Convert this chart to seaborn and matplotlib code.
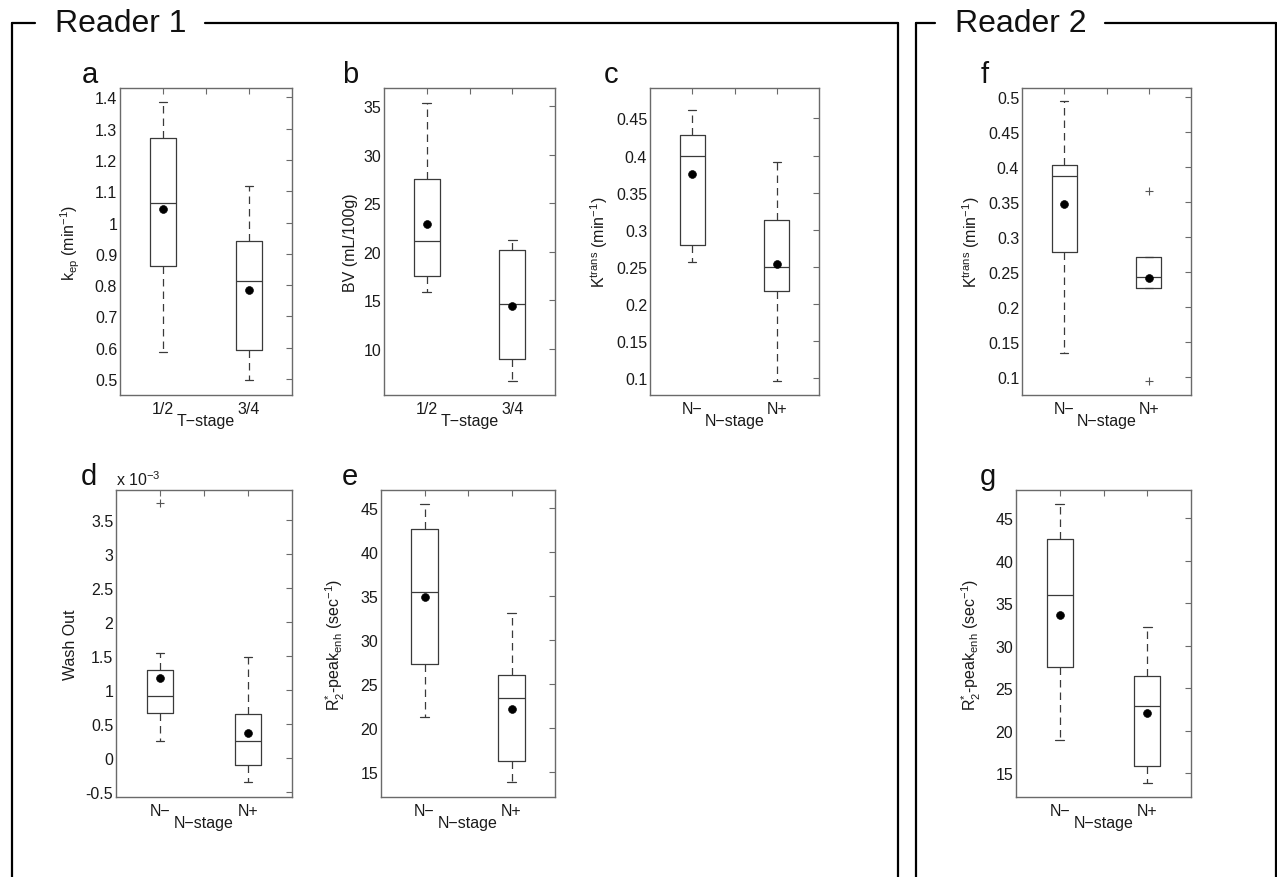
import matplotlib
matplotlib.use("Agg")
import matplotlib.pyplot as plt
import seaborn as sns
import pandas as pd
from matplotlib.lines import Line2D
from matplotlib.ticker import FormatStrFormatter

sns.set_style("white")
plt.rcParams["font.family"] = ["Liberation Sans", "DejaVu Sans"]
plt.rcParams["mathtext.default"] = "regular"

W, H = 1277, 878

# group labels
t_stage = ["1/2", "3/4"]
n_stage = ["N\u2212", "N+"]

# summary values read off the boxes: lower whisker, q1, median, q3, upper whisker, mean, outliers
# a: k_ep by T-stage (reader 1)
kep_low = [0.587, 0.496]
kep_q1 = [0.862, 0.593]
kep_med = [1.061, 0.812]
kep_q3 = [1.269, 0.941]
kep_high = [1.386, 1.117]
kep_mean = [1.043, 0.786]
kep_out = [[], []]

# b: BV by T-stage (reader 1)
bv_low = [15.9, 6.7]
bv_q1 = [17.5, 9.0]
bv_med = [21.1, 14.6]
bv_q3 = [27.5, 20.2]
bv_high = [35.4, 21.2]
bv_mean = [22.9, 14.4]
bv_out = [[], []]

# c: Ktrans by N-stage (reader 1)
kt1_low = [0.256, 0.097]
kt1_q1 = [0.280, 0.217]
kt1_med = [0.399, 0.250]
kt1_q3 = [0.428, 0.313]
kt1_high = [0.462, 0.391]
kt1_mean = [0.375, 0.254]
kt1_out = [[], []]

# d: wash out by N-stage (reader 1), x 10^-3
wo_low = [0.25, -0.355]
wo_q1 = [0.66, -0.105]
wo_med = [0.92, 0.25]
wo_q3 = [1.29, 0.655]
wo_high = [1.546, 1.48]
wo_mean = [1.18, 0.37]
wo_out = [[3.745], []]

# e: R2*-peak_enh by N-stage (reader 1)
r21_low = [21.3, 13.9]
r21_q1 = [27.3, 16.3]
r21_med = [35.4, 23.4]
r21_q3 = [42.6, 26.0]
r21_high = [45.4, 33.1]
r21_mean = [34.9, 22.2]
r21_out = [[], []]

# f: Ktrans by N-stage (reader 2)
kt2_low = [0.1335, 0.2274]
kt2_q1 = [0.2785, 0.2274]
kt2_med = [0.387, 0.2422]
kt2_q3 = [0.4026, 0.2718]
kt2_high = [0.4943, 0.2718]
kt2_mean = [0.3476, 0.242]
kt2_out = [[], [0.0943, 0.366]]

# g: R2*-peak_enh by N-stage (reader 2)
r22_low = [18.9, 13.9]
r22_q1 = [27.5, 15.8]
r22_med = [36.0, 22.9]
r22_q3 = [42.5, 26.4]
r22_high = [46.7, 32.2]
r22_mean = [33.6, 22.1]
r22_out = [[], []]

kep_label = r"k$_{ep}$ (min$^{-1}$)"
kt_label = r"K$^{trans}$ (min$^{-1}$)"
r2_label = r"R$^{*}_{2}$-peak$_{enh}$ (sec$^{-1}$)"

edge = "#3a3a3a"
spine = "#6a6a6a"
ink = "#1a1a1a"
fs = 11.5

fig = plt.figure(figsize=(W / 100, H / 100), dpi=100)


def px_axes(x0, y0, x1, y1):
    return fig.add_axes([x0 / W, 1 - y1 / H, (x1 - x0) / W, (y1 - y0) / H])


def box_panel(rect, groups, low, q1, med, q3, high, mean, out,
              ylim, yticks, xlabel, ylabel, ylab_dx, letter):
    ax = px_axes(*rect)
    stats = []
    for i in range(2):
        stats.append(dict(whislo=low[i], q1=q1[i], med=med[i], q3=q3[i],
                          whishi=high[i], fliers=out[i], label=groups[i]))
    ax.bxp(stats, positions=[1, 2], widths=0.3, capwidths=0.1,
           boxprops=dict(color=edge, lw=0.9),
           medianprops=dict(color=edge, lw=0.9),
           whiskerprops=dict(color=edge, lw=0.9, linestyle=(0, (6, 4))),
           capprops=dict(color=edge, lw=0.9),
           flierprops=dict(marker="+", markeredgecolor="#555555",
                           markersize=6, markeredgewidth=0.8))
    means = pd.DataFrame({"pos": [1, 2], "mean": mean})
    sns.scatterplot(data=means, x="pos", y="mean", ax=ax, color="black",
                    s=32, edgecolor="black", legend=False, zorder=5)
    ax.set_xlim(0.5, 2.5)
    ax.set_ylim(*ylim)
    ax.set_xticks([1, 1.5, 2])
    ax.set_xticklabels([groups[0], "", groups[1]])
    ax.set_yticks(yticks)
    ax.yaxis.set_major_formatter(FormatStrFormatter("%g"))
    ax.tick_params(direction="in", top=True, right=True, length=4,
                   width=0.8, color=spine, labelsize=fs, labelcolor=ink)
    ax.tick_params(axis="x", pad=4)
    ax.tick_params(axis="y", pad=2)
    for s in ax.spines.values():
        s.set_color(spine)
        s.set_linewidth(1.0)
    ax.set_xlabel(xlabel, fontsize=fs, color=ink)
    ax.xaxis.set_label_coords(0.5, -0.058)
    ax.set_ylabel(ylabel, fontsize=fs, color=ink)
    width = rect[2] - rect[0]
    ax.yaxis.set_label_coords(-ylab_dx / width, 0.5)
    fig.text(letter[1] / W, 1 - letter[2] / H, letter[0], fontsize=21,
             ha="center", va="baseline", color="#111111")
    return ax


def ticks(start, stop, step):
    n = int(round((stop - start) / step))
    return [round(start + k * step, 4) for k in range(n + 1)]


box_panel((120, 89, 292, 396), t_stage, kep_low, kep_q1, kep_med, kep_q3,
          kep_high, kep_mean, kep_out, (0.449, 1.43), ticks(0.5, 1.4, 0.1),
          "T\u2212stage", kep_label, 38, ("a", 90, 83))
box_panel((384, 89, 555, 396), t_stage, bv_low, bv_q1, bv_med, bv_q3,
          bv_high, bv_mean, bv_out, (5.25, 36.9), ticks(10, 35, 5),
          "T\u2212stage", "BV (mL/100g)", 26, ("b", 350, 83))
box_panel((650, 89, 819, 396), n_stage, kt1_low, kt1_q1, kt1_med, kt1_q3,
          kt1_high, kt1_mean, kt1_out, (0.0775, 0.491), ticks(0.1, 0.45, 0.05),
          "N\u2212stage", kt_label, 40, ("c", 611, 83))
box_panel((1022, 89, 1191, 396), n_stage, kt2_low, kt2_q1, kt2_med, kt2_q3,
          kt2_high, kt2_mean, kt2_out, (0.0738, 0.5133), ticks(0.1, 0.5, 0.05),
          "N\u2212stage", kt_label, 40, ("f", 985, 83))
box_panel((116, 491, 292, 798), n_stage, wo_low, wo_q1, wo_med, wo_q3,
          wo_high, wo_mean, wo_out, (-0.57, 3.94), ticks(-0.5, 3.5, 0.5),
          "N\u2212stage", "Wash Out", 38, ("d", 89, 485))
box_panel((381, 491, 555, 798), n_stage, r21_low, r21_q1, r21_med, r21_q3,
          r21_high, r21_mean, r21_out, (12.2, 47.0), ticks(15, 45, 5),
          "N\u2212stage", r2_label, 34, ("e", 350, 485))
box_panel((1016, 491, 1191, 798), n_stage, r22_low, r22_q1, r22_med, r22_q3,
          r22_high, r22_mean, r22_out, (12.2, 48.3), ticks(15, 45, 5),
          "N\u2212stage", r2_label, 33, ("g", 988, 485))

fig.text(116 / W, 1 - 486 / H, r"x 10$^{-3}$", fontsize=fs, ha="left",
         va="baseline", color=ink)


# reader frames
def fline(x0, y0, x1, y1):
    fig.add_artist(Line2D([x0 / W, x1 / W], [1 - y0 / H, 1 - y1 / H],
                          transform=fig.transFigure, color="black", lw=1.6))


top = 24
fline(12, top, 35, top)
fline(205, top, 898, top)
fline(12, top, 12, H + 5)
fline(898, top, 898, H + 5)
fig.text(55 / W, 1 - top / H, "Reader 1", fontsize=23, ha="left",
         va="center", color="#111111")

fline(916, top, 935, top)
fline(1105, top, 1276, top)
fline(916, top, 916, H + 5)
fline(1276, top, 1276, H + 5)
fig.text(955 / W, 1 - top / H, "Reader 2", fontsize=23, ha="left",
         va="center", color="#111111")

fig.savefig("out.png", dpi=100, facecolor="white")
